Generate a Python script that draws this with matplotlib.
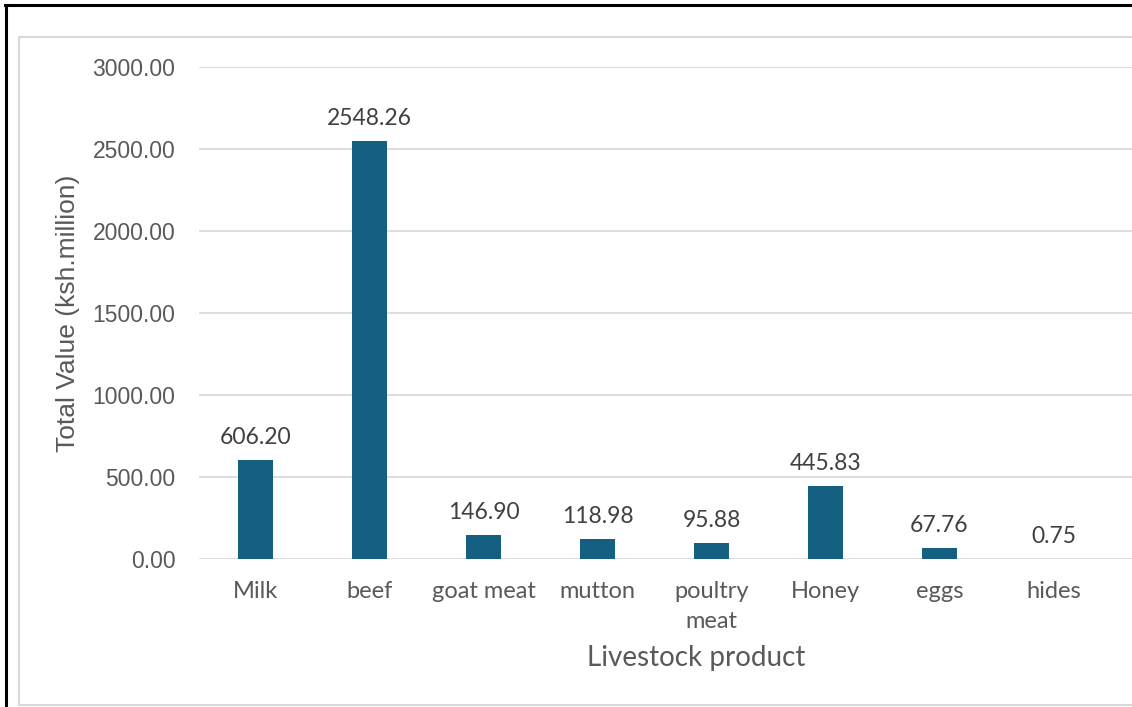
import matplotlib
matplotlib.use("Agg")
import matplotlib.pyplot as plt
from matplotlib.lines import Line2D

categories = ["Milk", "beef", "goat meat", "mutton", "poultry\nmeat", "Honey", "eggs", "hides"]
values = [606.20, 2548.26, 146.90, 118.98, 95.88, 445.83, 67.76, 0.75]
yticks = [0, 500, 1000, 1500, 2000, 2500, 3000]

W, H = 1132, 707
fig = plt.figure(figsize=(W / 100, H / 100), dpi=100)
fig.patch.set_facecolor("white")

# outer black frame (top and left)
fig.add_artist(Line2D([5 / W, 1], [1 - 5 / H, 1 - 5 / H], color="black", lw=2.2, transform=fig.transFigure))
fig.add_artist(Line2D([6 / W, 6 / W], [0, 1 - 5 / H], color="black", lw=2.2, transform=fig.transFigure))
# inner gray chart-area frame
fig.add_artist(Line2D([19 / W, 19 / W, 1], [1 - 705 / H, 1 - 37 / H, 1 - 37 / H], color="#d9d9d9", lw=1.5, transform=fig.transFigure))
fig.add_artist(Line2D([19 / W, 1], [1 - 705 / H, 1 - 705 / H], color="#d9d9d9", lw=1.5, transform=fig.transFigure))

left, right = 199 / W, 1.0
bottom, top = 1 - 559 / H, 1 - 67 / H
ax = fig.add_axes([left, bottom, right - left, top - bottom])

x = list(range(len(categories)))
ax.bar(x, values, width=0.31, color="#156082", zorder=3)

ax.set_ylim(0, 3000)
ax.set_xlim(-0.4956, 7.689)
ax.set_yticks(yticks)
ax.set_yticklabels([f"{v:.2f}" for v in yticks], fontsize=16.5, color="#595959", family="Liberation Sans")
ax.set_xticks(x)
ax.set_xticklabels(categories, fontsize=17, color="#595959", family="Lato", linespacing=1.5)
ax.tick_params(axis="y", length=0, pad=17)
ax.tick_params(axis="x", length=0, pad=16)
ax.grid(axis="y", color="#d9d9d9", lw=1.2, zorder=0)
for s in ax.spines.values():
    s.set_visible(False)

for xi, v in zip(x, values):
    ax.annotate(f"{v:.2f}", (xi, v), xytext=(0, 16), textcoords="offset pixels",
                ha="center", va="baseline", fontsize=16.5, color="#404040", family="Lato")

fig.text(68 / W, 1 - 313 / H, "Total Value (ksh.million)", rotation=90, ha="center", va="center",
         fontsize=19, color="#595959", family="Liberation Sans")
fig.text(696 / W, 1 - 658 / H, "Livestock product", ha="center", va="center",
         fontsize=20, color="#595959", family="Lato")

fig.savefig("out.png", dpi=100, facecolor="white")
